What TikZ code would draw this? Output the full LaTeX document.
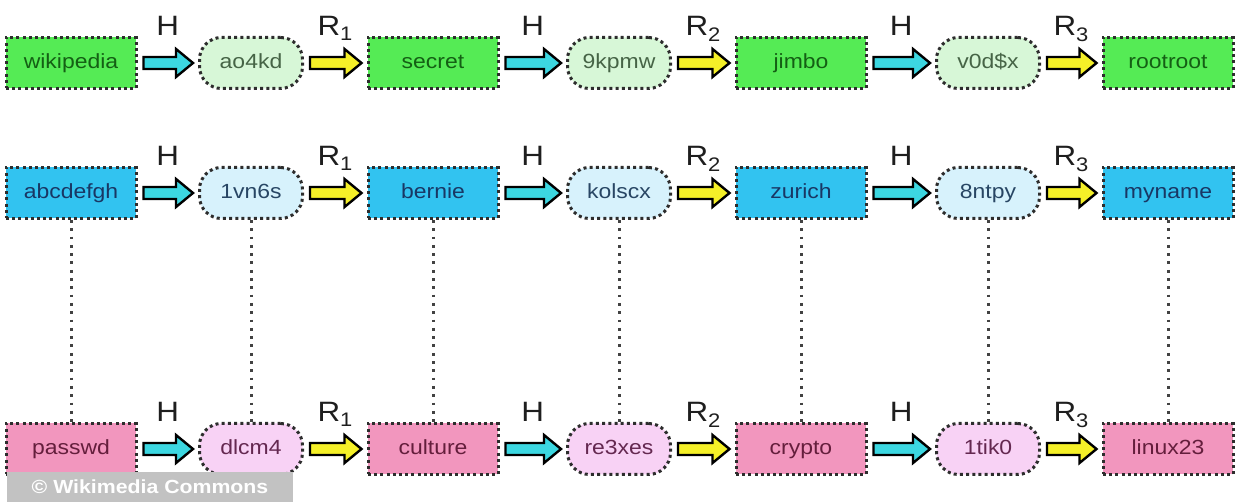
\documentclass[tikz,border=0pt]{standalone}
\usepackage{fontspec}
\setmainfont[FakeStretch=1.12]{Liberation Sans}
\usetikzlibrary{calc}

\definecolor{dotline}{RGB}{45,45,45}
\definecolor{grnfill}{RGB}{85,235,85}
\definecolor{grnpill}{RGB}{215,247,215}
\definecolor{grntext}{RGB}{20,95,20}
\definecolor{grnptext}{RGB}{70,100,70}
\definecolor{blufill}{RGB}{50,195,240}
\definecolor{blupill}{RGB}{215,242,252}
\definecolor{blutext}{RGB}{25,55,100}
\definecolor{bluptext}{RGB}{40,70,100}
\definecolor{pnkfill}{RGB}{242,150,190}
\definecolor{pnkpill}{RGB}{248,210,245}
\definecolor{pnktext}{RGB}{100,30,60}
\definecolor{pnkptext}{RGB}{100,40,80}
\definecolor{hashcol}{RGB}{60,215,225}
\definecolor{redcol}{RGB}{245,240,40}
\definecolor{labelcol}{RGB}{30,30,30}

\tikzset{
  pw/.style={draw=dotline, line width=3pt, dash pattern=on 3pt off 3.2pt,
    minimum width=130pt, minimum height=51pt, inner sep=0pt,
    text height=15pt, text depth=4pt,
    font=\fontsize{20.5}{20.5}\selectfont},
  hashpill/.style={pw, rounded corners=22pt, minimum width=103pt},
  grnbox/.style={pw, fill=grnfill, text=grntext},
  grnhash/.style={hashpill, fill=grnpill, text=grnptext},
  blubox/.style={pw, fill=blufill, text=blutext},
  bluhash/.style={hashpill, fill=blupill, text=bluptext},
  pnkbox/.style={pw, fill=pnkfill, text=pnktext},
  pnkhash/.style={hashpill, fill=pnkpill, text=pnkptext},
  oplabel/.style={font=\fontsize{28}{28}\selectfont, text=labelcol, inner sep=0pt, anchor=base},
  fatarrow/.style={draw=black, line width=2.4pt, line join=miter},
  chainlink/.style={draw=dotline!90, line width=3pt, dash pattern=on 2.8pt off 5.5pt},
}

% fat arrow between two nodes, with its label above
\newcommand{\hashstep}[4]{%
  \draw[fatarrow, fill=#3] ($(#1.east)+(6,-6)$) -- ($(#2.west)+(-22,-6)$)
    -- ($(#2.west)+(-22,-14)$) -- ($(#2.west)+(-5,0)$) -- ($(#2.west)+(-22,14)$)
    -- ($(#2.west)+(-22,6)$) -- ($(#1.east)+(6,6)$) -- cycle;
  \node[oplabel] at ($(#1.east)!0.5!(#2.west)+(0,-27)$) {#4};
}

\begin{document}
\begin{tikzpicture}[x=1pt, y=-1pt]
    \useasboundingbox (0,0) rectangle (1235,502);

    % first chain
    \node[grnbox]  (wiki)   at (71,63)   {wikipedia};
    \node[grnhash] (ao4kd)  at (251,63)  {ao4kd};
    \node[grnbox]  (secret) at (433,63)  {secret};
    \node[grnhash] (kpmw)   at (619,63)  {9kpmw};
    \node[grnbox]  (jimbo)  at (801,63)  {jimbo};
    \node[grnhash] (vods)   at (988,63)  {v0d\$x};
    \node[grnbox]  (root)   at (1168,63) {rootroot};
    \hashstep{wiki}{ao4kd}{hashcol}{H}
    \hashstep{ao4kd}{secret}{redcol}{R\textsubscript{1}}
    \hashstep{secret}{kpmw}{hashcol}{H}
    \hashstep{kpmw}{jimbo}{redcol}{R\textsubscript{2}}
    \hashstep{jimbo}{vods}{hashcol}{H}
    \hashstep{vods}{root}{redcol}{R\textsubscript{3}}

    % second chain
    \node[blubox]  (abc)    at (71,193)   {abcdefgh};
    \node[bluhash] (vns)    at (251,193)  {1vn6s};
    \node[blubox]  (bernie) at (433,193)  {bernie};
    \node[bluhash] (kol)    at (619,193)  {kolscx};
    \node[blubox]  (zurich) at (801,193)  {zurich};
    \node[bluhash] (ntpy)   at (988,193)  {8ntpy};
    \node[blubox]  (myname) at (1168,193) {myname};
    \hashstep{abc}{vns}{hashcol}{H}
    \hashstep{vns}{bernie}{redcol}{R\textsubscript{1}}
    \hashstep{bernie}{kol}{hashcol}{H}
    \hashstep{kol}{zurich}{redcol}{R\textsubscript{2}}
    \hashstep{zurich}{ntpy}{hashcol}{H}
    \hashstep{ntpy}{myname}{redcol}{R\textsubscript{3}}

    % third chain
    \node[pnkbox]  (passwd)  at (71,449)   {passwd};
    \node[pnkhash] (dlcm)    at (251,449)  {dlcm4};
    \node[pnkbox]  (culture) at (433,449)  {culture};
    \node[pnkhash] (rexes)   at (619,449)  {re3xes};
    \node[pnkbox]  (crypto)  at (801,449)  {crypto};
    \node[pnkhash] (tik)     at (988,449)  {1tik0};
    \node[pnkbox]  (linux)   at (1168,449) {linux23};
    \hashstep{passwd}{dlcm}{hashcol}{H}
    \hashstep{dlcm}{culture}{redcol}{R\textsubscript{1}}
    \hashstep{culture}{rexes}{hashcol}{H}
    \hashstep{rexes}{crypto}{redcol}{R\textsubscript{2}}
    \hashstep{crypto}{tik}{hashcol}{H}
    \hashstep{tik}{linux}{redcol}{R\textsubscript{3}}

    % links between second and third chain
    \draw[chainlink] (abc) -- (passwd);
    \draw[chainlink] (vns) -- (dlcm);
    \draw[chainlink] (bernie) -- (culture);
    \draw[chainlink] (kol) -- (rexes);
    \draw[chainlink] (zurich) -- (crypto);
    \draw[chainlink] (ntpy) -- (tik);
    \draw[chainlink] (myname) -- (linux);

    % watermark
    \node[fill=black!24, text=white, minimum width=286pt, minimum height=30pt, inner sep=0pt,
      font=\bfseries\fontsize{19}{19}\selectfont] (wmark) at (150,487) {© Wikimedia Commons};
\end{tikzpicture}
\end{document}
